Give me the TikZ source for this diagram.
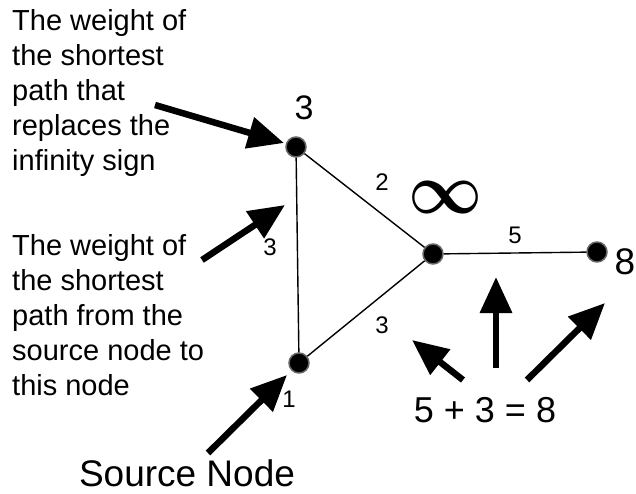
\documentclass[tikz,border=0pt]{standalone}
\usepackage{fontspec}
\setmainfont{Liberation Sans}
\usetikzlibrary{arrows.meta}
\begin{document}
\begin{tikzpicture}[x=1pt,y=-1pt,
  vertex/.style={circle,fill=black,draw=black!60,line width=1.5pt,minimum size=20pt,inner sep=0pt},
  edge/.style={line width=1.4pt,black},
  wlabel/.style={font=\fontsize{24}{28}\selectfont,inner sep=0pt},
  note/.style={font=\fontsize{29}{35}\selectfont,align=left,inner sep=0pt,anchor=north west},
  bigarrow/.style={line width=6.5pt,-{Triangle[length=36pt,width=31pt]}}
]
\useasboundingbox (0,0) rectangle (636,494);
% graph vertices
\node[vertex] (a) at (296,147) {};
\node[vertex] (b) at (299,363) {};
\node[vertex] (c) at (433,254) {};
\node[vertex] (d) at (597,252) {};
% edges
\draw[edge] (a) -- (b);
\draw[edge] (a) -- (c);
\draw[edge] (b) -- (c);
\draw[edge] (c) -- (d);
% edge weights
\node[wlabel] (w2) at (382,182) {2};
\node[wlabel] (w3a) at (270,247) {3};
\node[wlabel] (w5) at (515,235) {5};
\node[wlabel] (w3b) at (382,325) {3};
\node[wlabel] (w1) at (289,399) {1};
% distance labels
\node[font=\fontsize{34}{38}\selectfont,anchor=base,inner sep=0pt] (da) at (304,120) {3};
\node[font=\fontsize{37}{40}\selectfont,anchor=base,inner sep=0pt] (dd) at (625,274) {8};
\node[inner sep=0pt] (inf) at (446,197) {\resizebox{74pt}{32pt}{\boldmath$\infty$}};
% notes
\node[note] (n1) at (12,9) {The weight of\\the shortest\\path that\\replaces the\\infinity sign};
\node[note] (n2) at (12,234) {The weight of\\the shortest\\path from the\\source node to\\this node};
\node[font=\fontsize{37}{42}\selectfont,anchor=base,inner sep=0pt] (src) at (187,486) {Source Node};
\node[font=\fontsize{36}{40}\selectfont,anchor=base,inner sep=0pt] (sum) at (485,422) {5 + 3 = 8};
% arrows
\coordinate (s1) at (155,105); \coordinate (t1) at (284,143);
\coordinate (s2) at (202,260); \coordinate (t2) at (285,205);
\coordinate (s3) at (208,453); \coordinate (t3) at (287,375);
\coordinate (s4) at (463,380); \coordinate (t4) at (412,340);
\coordinate (s5) at (496,368); \coordinate (t5) at (496,277);
\coordinate (s6) at (527,380); \coordinate (t6) at (605,303);
\draw[bigarrow] (s1) -- (t1);
\draw[bigarrow] (s2) -- (t2);
\draw[bigarrow] (s3) -- (t3);
\draw[bigarrow] (s4) -- (t4);
\draw[bigarrow] (s5) -- (t5);
\draw[bigarrow] (s6) -- (t6);
\end{tikzpicture}
\end{document}
